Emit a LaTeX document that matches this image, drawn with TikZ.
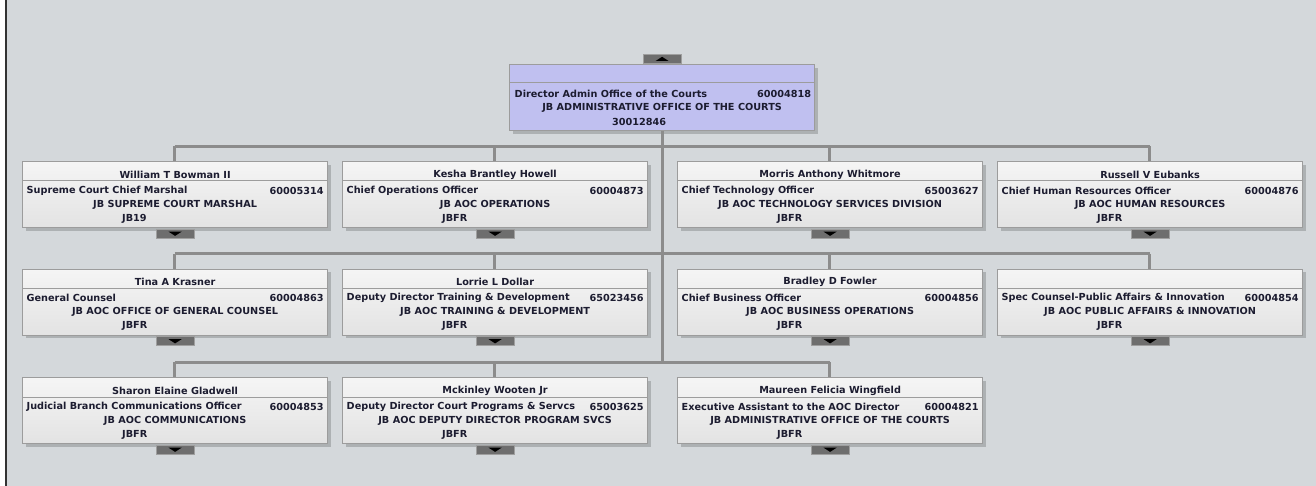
\documentclass[tikz,border=0pt]{standalone}
\usepackage{fontspec}
\usetikzlibrary{shadows}
\newfontfamily\boxfont{DejaVu Sans}
\definecolor{bgc}{HTML}{D4D8DB}
\definecolor{connc}{HTML}{8C8C8C}
\definecolor{borderc}{HTML}{9C9C9C}
\definecolor{txtc}{HTML}{1C1C30}
\definecolor{lav}{HTML}{C0C0F0}
\definecolor{btnc}{HTML}{6E6E6E}
\tikzset{
  conn/.style={draw=connc,line width=3pt},
  unit/.style={rectangle,draw=borderc,line width=1.2pt,minimum width=305pt,minimum height=66pt,inner sep=0pt,
     top color=white!96!black,bottom color=white!89!black,
     drop shadow={shadow xshift=3pt,shadow yshift=-3pt,fill=black,opacity=0.18}},
  topunit/.style={unit,top color=lav,bottom color=lav},
  sepline/.style={draw=borderc,line width=1pt},
  txt/.style={inner sep=0pt,text=txtc,font=\boxfont\bfseries\fontsize{9.7}{10}\selectfont},
  btn/.style={rectangle,fill=btnc,draw=gray!75,line width=0.6pt,minimum width=38pt,minimum height=9pt,inner sep=0pt},
  tri/.style={fill=black}
}
\newcommand\orgunit[9]{%
  \node[unit,#9,anchor=north west] (#1) at (#2,#3) {};
  \draw[sepline] ([yshift=-20pt]#1.north west) -- ([yshift=-20pt]#1.north east);
  \node[txt] (#1-name) at ([yshift=-13.5pt]#1.north) {#4};
  \node[txt,anchor=west] (#1-title) at ([shift={(4.5pt,-29.5pt)}]#1.north west) {#5};
  \node[txt,anchor=east] (#1-num) at ([shift={(-4.5pt,-29.5pt)}]#1.north east) {#6};
  \node[txt] (#1-dept) at ([yshift=-43.5pt]#1.north) {#7};
  \node[txt,anchor=west] (#1-code) at ([shift={(100pt,-57.5pt)}]#1.north west) {#8};
  \node[btn] (#1-btn) at ([yshift=-5.5pt]#1.south) {};
  \fill[tri] ([shift={(-6.5pt,2pt)}]#1-btn.center) -- ([shift={(6.5pt,2pt)}]#1-btn.center) -- ([shift={(0pt,-2.2pt)}]#1-btn.center) -- cycle;
}
\begin{document}
\begin{tikzpicture}[x=1pt,y=-1pt]
\useasboundingbox (0,0) rectangle (1316,486);
\fill[bgc] (0,0) rectangle (1316,486);
\fill[white] (0,0) rectangle (5,486);
\fill[black!80] (5,0) rectangle (7,486);
\coordinate (bar1) at (0,146.5);
\coordinate (bar2) at (0,254);
\coordinate (bar3) at (0,362);
% top unit
\node[topunit,anchor=north west] (top) at (509,64) {};
\draw[sepline] ([yshift=-19pt]top.north west) -- ([yshift=-19pt]top.north east);
\node[txt,anchor=west] (top-title) at ([shift={(5.5pt,-29.5pt)}]top.north west) {Director Admin Office of the Courts};
\node[txt,anchor=east] (top-num) at ([shift={(-4pt,-29.5pt)}]top.north east) {60004818};
\node[txt] (top-dept) at ([yshift=-43.5pt]top.north) {JB ADMINISTRATIVE OFFICE OF THE COURTS};
\node[txt,anchor=west] (top-code) at ([shift={(103pt,-58pt)}]top.north west) {30012846};
\node[btn] (top-btn) at ([yshift=5pt]top.north) {};
\fill[tri] ([shift={(-6.5pt,-2pt)}]top-btn.center) -- ([shift={(6.5pt,-2pt)}]top-btn.center) -- ([shift={(0pt,2.2pt)}]top-btn.center) -- cycle;
% connectors
\coordinate (c1) at (174.5,161);
\coordinate (c2) at (494.5,161);
\coordinate (c3) at (829.5,161);
\coordinate (c4) at (1149.5,161);
\draw[conn] (top.south) -- (top.south |- bar3);
\draw[conn] (c1 |- bar1) -- (c4 |- bar1);
\draw[conn] (c1 |- bar2) -- (c4 |- bar2);
\draw[conn] (c1 |- bar3) -- (c3 |- bar3);
\foreach \c in {c1,c2,c3,c4}{\draw[conn] (\c |- bar1) -- ++(0,15);}
\foreach \c in {c1,c2,c3,c4}{\draw[conn] (\c |- bar2) -- ++(0,15);}
\foreach \c in {c1,c2,c3}{\draw[conn] (\c |- bar3) -- ++(0,15);}
% row 1
\orgunit{u1}{22}{161}{William T Bowman II}{Supreme Court Chief Marshal}{60005314}{JB SUPREME COURT MARSHAL}{JB19}{}
\orgunit{u2}{342}{161}{Kesha Brantley Howell}{Chief Operations Officer}{60004873}{JB AOC OPERATIONS}{JBFR}{}
\orgunit{u3}{677}{161}{Morris Anthony Whitmore}{Chief Technology Officer}{65003627}{JB AOC TECHNOLOGY SERVICES DIVISION}{JBFR}{}
\orgunit{u4}{997}{161}{Russell V Eubanks}{Chief Human Resources Officer}{60004876}{JB AOC HUMAN RESOURCES}{JBFR}{}
% row 2
\orgunit{u5}{22}{268.5}{Tina A Krasner}{General Counsel}{60004863}{JB AOC OFFICE OF GENERAL COUNSEL}{JBFR}{}
\orgunit{u6}{342}{268.5}{Lorrie L Dollar}{Deputy Director Training \& Development}{65023456}{JB AOC TRAINING \& DEVELOPMENT}{JBFR}{}
\orgunit{u7}{677}{268.5}{Bradley D Fowler}{Chief Business Officer}{60004856}{JB AOC BUSINESS OPERATIONS}{JBFR}{}
\orgunit{u8}{997}{268.5}{}{Spec Counsel-Public Affairs \& Innovation}{60004854}{JB AOC PUBLIC AFFAIRS \& INNOVATION}{JBFR}{}
% row 3
\orgunit{u9}{22}{377}{Sharon Elaine Gladwell}{Judicial Branch Communications Officer}{60004853}{JB AOC COMMUNICATIONS}{JBFR}{}
\orgunit{u10}{342}{377}{Mckinley Wooten Jr}{Deputy Director Court Programs \& Servcs}{65003625}{JB AOC DEPUTY DIRECTOR PROGRAM SVCS}{JBFR}{}
\orgunit{u11}{677}{377}{Maureen Felicia Wingfield}{Executive Assistant to the AOC Director}{60004821}{JB ADMINISTRATIVE OFFICE OF THE COURTS}{JBFR}{}
\end{tikzpicture}
\end{document}
